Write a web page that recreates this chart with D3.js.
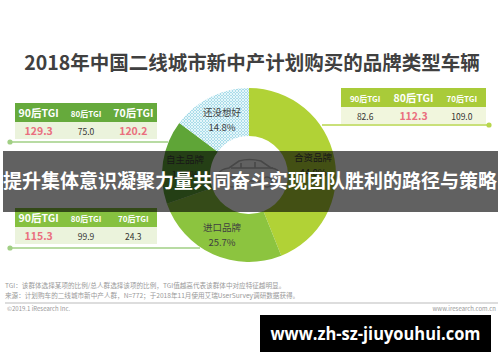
<!DOCTYPE html>
<html><head><meta charset="utf-8">
<script src="https://cdn.jsdelivr.net/npm/d3@7"></script>
<style>
body{margin:0;background:#fff;}
svg{display:block;font-family:"Noto Sans CJK SC","Noto Sans",sans-serif;}
</style></head>
<body>
<svg id="c" width="500" height="362"></svg>
<script>
const title = "2018年中国二线城市新中产计划购买的品牌类型车辆";
const categories = ["合资品牌","进口品牌","自主品牌","还没想好"];
const shares = [44.0, 25.7, 15.6, 14.8];
const sliceColors = ["#b1d236","#8cc43f","#5fa537","#bfe3ec"];
const tgiHeaders = ["90后TGI","80后TGI","70后TGI"];
const tgiZizhu = [129.3, 75.0, 120.2];
const tgiZizhuHi = [true, false, true];
const tgiHezi = [82.6, 112.3, 109.0];
const tgiHeziHi = [false, true, false];
const tgiJinkou = [115.3, 99.9, 24.3];
const tgiJinkouHi = [true, false, false];
const notes = ["TGI：该群体选择某项的比例/总人群选择该项的比例，TGI值越高代表该群体中对应特征越明显。",
               "来源：计划购车的二线城市新中产人群，N=772；于2018年11月使用艾瑞UserSurvey调研数据获得。"];
const overlayText = "提升集体意识凝聚力量共同奋斗实现团队胜利的路径与策略";
const watermark = "www.zh-sz-jiuyouhui.com";

const svg = d3.select("#c");
const defs = svg.append("defs");
const pat = defs.append("pattern").attr("id","hatch").attr("patternUnits","userSpaceOnUse")
  .attr("width",3).attr("height",3);
pat.append("rect").attr("width",3).attr("height",3).attr("fill","#a9dce9");
pat.append("path").attr("d","M0,0L3,3M3,0L0,3").attr("stroke","#f2fbfd").attr("stroke-width",0.8);

// title
svg.append("text").attr("x",252).attr("y",70).attr("text-anchor","middle")
  .attr("font-size",19.5).attr("font-weight","bold").attr("fill","#404040").text(title);

// donut
const cx=249, cy=175, R=87, r0=39;
const pie = d3.pie().sort(null).value(d=>d)(shares);
const arc = d3.arc().innerRadius(r0).outerRadius(R);
const g = svg.append("g").attr("transform",`translate(${cx},${cy})`);
g.selectAll("path.s").data(pie).join("path").attr("class","s")
  .attr("d",arc).attr("fill",(d,i)=> i===3 ? "url(#hatch)" : sliceColors[i]);

// car icon
const car = g.append("g").attr("fill","none").attr("stroke","#bbb").attr("stroke-width",1.6);
car.append("path").attr("d","M-30,6 L-30,-2 Q-28,-6 -20,-7 L-10,-14 Q0,-17 12,-14 L22,-7 Q30,-6 31,-1 L31,6 Z");
car.append("circle").attr("cx",-17).attr("cy",7).attr("r",5).attr("fill","#fff");
car.append("circle").attr("cx",18).attr("cy",7).attr("r",5).attr("fill","#fff");
car.append("path").attr("d","M-8,-12 L-8,-7 M6,-13 L6,-7 M-18,-7 L24,-7");

// labels
const labelPos = [[313,158],[222,228],[185,160],[222,113]];
categories.forEach((c,i)=>{
  const t = svg.append("text").attr("text-anchor","middle").attr("font-size",9.5).attr("fill","#404040");
  t.append("tspan").attr("x",labelPos[i][0]).attr("y",labelPos[i][1]+3).text(c);
  t.append("tspan").attr("x",labelPos[i][0]).attr("y",labelPos[i][1]+18).text(d3.format(".1f")(shares[i])+"%");
});

// tables
function table(x, y, w, headColor, rowColor, vals, hi){
  const col = d3.scaleBand().domain(tgiHeaders).range([x,x+w]);
  svg.append("rect").attr("x",x).attr("y",y).attr("width",w).attr("height",19).attr("fill",headColor);
  svg.append("rect").attr("x",x).attr("y",y+19).attr("width",w).attr("height",17).attr("fill",rowColor);
  tgiHeaders.forEach((h,i)=>{
    const xc = col(h)+col.bandwidth()/2;
    svg.append("text").attr("x",xc).attr("y",y+13.5).attr("text-anchor","middle")
      .attr("fill","#fff").attr("font-weight","bold").attr("font-size",hi[i]?10.5:8).text(h);
    svg.append("text").attr("x",xc).attr("y",y+31.5).attr("text-anchor","middle")
      .attr("fill",hi[i]?"#ea6f7e":"#333").attr("font-weight",hi[i]?"bold":"normal")
      .attr("font-size",hi[i]?10.5:8.5).text(d3.format(".1f")(vals[i]));
  });
}
table(15,103,142,"#66aa3c","#ebf3dc",tgiZizhu,tgiZizhuHi);
table(341,88,145,"#a9cb39","#f1f6dd",tgiHezi,tgiHeziHi);
table(15,208,142,"#86c140","#ebf3dc",tgiJinkou,tgiJinkouHi);

// connector lines
function conn(x1,x2,y,color,dotX){
  svg.append("line").attr("x1",x1).attr("x2",x2).attr("y1",y).attr("y2",y).attr("stroke",color).attr("stroke-width",1.5);
  svg.append("circle").attr("cx",dotX).attr("cy",y).attr("r",2.6).attr("fill",color);
}
conn(10,168,142,"#a1cf84",10);
conn(322,489,125,"#b7d64c",489);
conn(10,200,248,"#a1cf84",10);

// notes
notes.forEach((n,i)=>svg.append("text").attr("x",5).attr("y",288+i*10).attr("font-size",6.6).attr("fill","#999").text(n));
svg.append("line").attr("x1",5).attr("x2",498).attr("y1",303).attr("y2",303).attr("stroke","#aaa").attr("stroke-width",0.8);
svg.append("text").attr("x",7).attr("y",311).attr("font-size",6).attr("fill","#999").text("©2019.1 iResearch Inc.");
svg.append("text").attr("x",496).attr("y",311).attr("text-anchor","end").attr("font-size",6).attr("fill","#999").text("www.iresearch.com.cn");

// overlay band
svg.append("rect").attr("x",3).attr("y",151).attr("width",495).attr("height",61).attr("fill","#000").attr("opacity",0.62);
svg.append("text").attr("x",250).attr("y",188).attr("text-anchor","middle").attr("font-size",19)
  .attr("font-weight","bold").attr("fill","#fff").attr("textLength",494).attr("lengthAdjust","spacingAndGlyphs").text(overlayText);

// watermark box
svg.append("rect").attr("x",260).attr("y",315).attr("width",231).attr("height",37).attr("fill","#000");
svg.append("text").attr("x",375.5).attr("y",340).attr("text-anchor","middle").attr("font-size",18)
  .attr("font-weight","bold").attr("fill","#fff").attr("textLength",210).attr("lengthAdjust","spacingAndGlyphs")
  .attr("font-family","'Open Sans','DejaVu Sans',sans-serif").text(watermark);
</script>
</body></html>
